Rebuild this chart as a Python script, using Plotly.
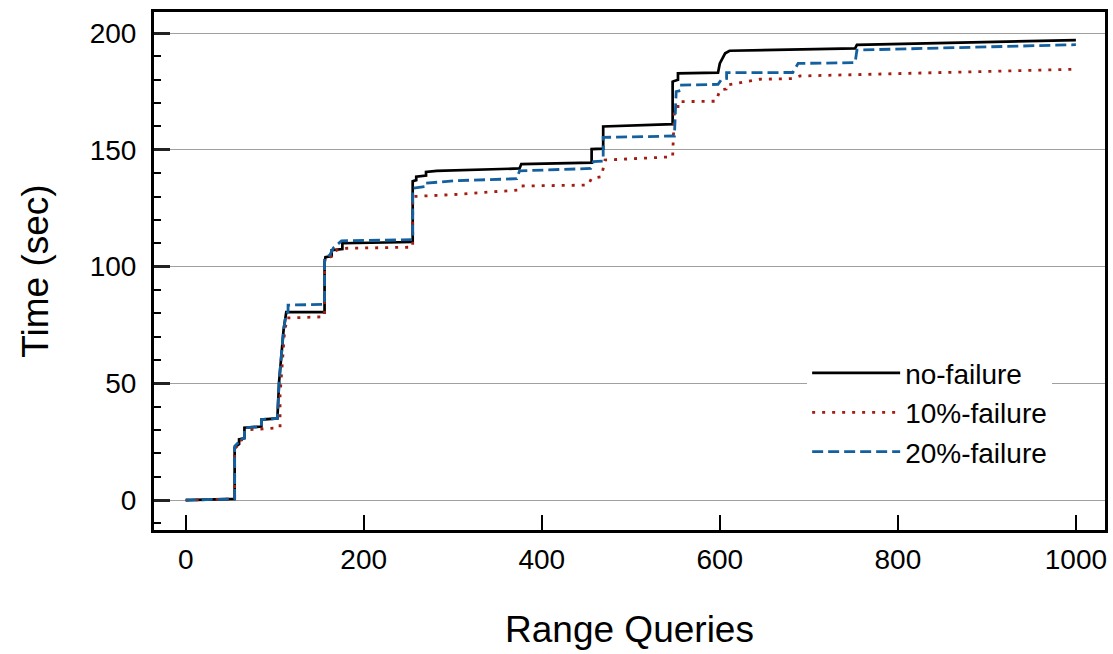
import plotly.graph_objects as go

# ---- data ----
nofail_x = [0, 55, 55, 60, 60, 66, 66, 85, 85, 103, 105, 108, 110, 113, 156, 156, 157, 164, 164, 176, 176,
            255, 255, 259, 259, 270, 270, 282, 282, 375, 377, 456, 456, 469, 469, 547, 547, 553, 553,
            598, 600, 603, 606, 611, 752, 754, 1000]
nofail_y = [0, 0.5, 22.5, 24, 26, 26.5, 31, 31.5, 34.5, 35, 51, 66, 73, 80.5, 80.5, 101.5, 104, 104.5, 107, 107.5, 110,
            110.5, 136.5, 137, 138.5, 139, 140.5, 141, 141, 142, 143.9, 144.5, 150.3, 150.5, 160, 161, 179.2, 180, 182.7,
            183, 187, 189, 191.3, 192.4, 193.4, 194.9, 197]

fail10_x = [0, 55, 55, 60, 60, 66, 66, 106, 106, 109, 111, 114, 156, 156, 160, 166, 166, 176, 255, 255, 300,
            375, 377, 452, 456, 467, 471, 547, 549, 553, 553, 596, 600, 607, 607, 645, 682, 690, 1000]
fail10_y = [0, 0.5, 22, 24, 25.5, 26, 30, 31, 45, 62, 72, 78, 78.5, 102.8, 103.5, 105, 106.5, 107.8, 108.3, 130, 130.8,
            132.8, 134.5, 134.9, 137.8, 138.5, 145.6, 147, 167, 167.5, 170.6, 170.8, 175.6, 176, 177.7, 180.2, 180.5,
            181.6, 184.5]

fail20_x = [0, 55, 55, 60, 60, 66, 66, 85, 85, 103, 105, 108, 110, 113, 115, 115, 156, 156, 162, 166, 175, 255,
            255, 270, 270, 304, 372, 375, 455, 458, 469, 469, 549, 551, 557, 557, 598, 602, 607.6, 607.6, 682, 688,
            752, 754, 1000]
fail20_y = [0, 0.5, 23, 25, 26, 26.5, 31, 31.5, 34.5, 35, 51, 66, 73, 80, 80.5, 83.5, 83.8, 103.6, 105, 108, 111, 111.5,
            133.5, 134.3, 135.7, 136.8, 137.6, 141, 142, 144.9, 145.2, 155.3, 155.9, 174.9, 175.5, 177.7, 178, 180.2,
            180.5, 183, 183.1, 187, 187.3, 192.7, 195]

series_names = ["no-failure", "10%-failure", "20%-failure"]
x_ticks = [0, 200, 400, 600, 800, 1000]
y_ticks = [0, 50, 100, 150, 200]

FONT = "Liberation Sans, Arial, Helvetica, sans-serif"

fig = go.Figure()
fig.add_trace(go.Scatter(x=nofail_x, y=nofail_y, mode="lines", name=series_names[0],
                         line=dict(color="black", width=2.7)))
fig.add_trace(go.Scatter(x=fail10_x, y=fail10_y, mode="lines", name=series_names[1],
                         line=dict(color="#a31d12", width=2.8, dash="3px,7px")))
fig.add_trace(go.Scatter(x=fail20_x, y=fail20_y, mode="lines", name=series_names[2],
                         line=dict(color="#14609f", width=2.8, dash="11px,5px")))

fig.update_layout(
    width=1113, height=654,
    margin=dict(l=154, r=8, t=12, b=124, autoexpand=False),
    paper_bgcolor="white", plot_bgcolor="white",
    font=dict(family=FONT, color="black"),
    showlegend=True,
    legend=dict(x=0.6868, y=0.351, xanchor="left", yanchor="top",
                bgcolor="white", font=dict(size=28, family=FONT),
                itemwidth=88, tracegroupgap=0),
)

fig.update_xaxes(
    range=[-35.6, 1032.7], tickvals=x_ticks, ticktext=[str(v) for v in x_ticks],
    ticks="inside", ticklen=15, tickwidth=2, tickcolor="black",
    showline=True, mirror=True, linewidth=3, linecolor="black",
    showgrid=False, zeroline=False, automargin=False,
    tickfont=dict(size=28, family=FONT), ticklabelstandoff=2,
    title=dict(text="Range Queries", font=dict(size=37, family=FONT), standoff=43),
)
fig.update_yaxes(
    range=[-12.8, 209], tickvals=y_ticks, ticktext=[str(v) for v in y_ticks],
    ticks="inside", ticklen=16, tickwidth=2.5, tickcolor="#222",
    minor=dict(ticks="inside", dtick=10, tick0=0, ticklen=7, tickwidth=1.5, tickcolor="black", showgrid=False),
    showline=True, mirror=True, linewidth=3, linecolor="black",
    showgrid=True, gridcolor="#a0a0a0", gridwidth=1, zeroline=False, automargin=False,
    tickfont=dict(size=28, family=FONT), ticklabelstandoff=9,
    title=dict(text="Time (sec)", font=dict(size=37, family=FONT), standoff=30),
)

# remove the default page margin so the figure sits at the window origin
fig.write_html("out.html", config={"displayModeBar": False},
               post_script="document.body.style.margin='0';")
